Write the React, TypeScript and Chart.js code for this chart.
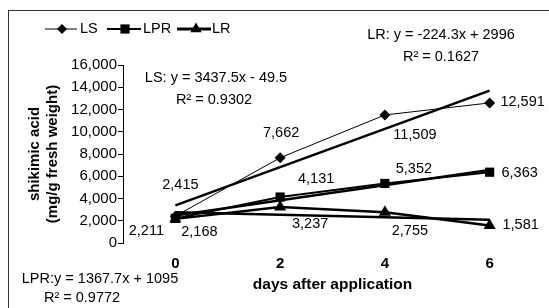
import React, { useEffect, useRef } from "react";
import { Chart, registerables } from "chart.js";

Chart.register(...registerables);

// ---- data ----
const days = [0, 2, 4, 6];
const xTickLabels = ["0", "2", "4", "6"];
const lsValues = [2415, 7662, 11509, 12591];
const lprValues = [2211, 4131, 5352, 6363];
const lrValues = [2168, 3237, 2755, 1581];
const trendDays = [0, 6];
const lsTrend = [3388, 13700.5];
const lprTrend = [2462.7, 6565.8];
const lrTrend = [2771.7, 2098.8];
const yMin = 0;
const yMax = 16000;
const yStep = 2000;
const seriesNames = ["LS", "LPR", "LR"];
const equationTexts = [
  "LS: y = 3437.5x - 49.5",
  "R² = 0.9302",
  "LR: y = -224.3x + 2996",
  "R² = 0.1627",
  "LPR:y = 1367.7x + 1095",
  "R² = 0.9772",
];

// ---- layout / style (not data) ----
const FONT = "'Liberation Sans', Arial, Helvetica, sans-serif";
const equationPos = [
  [216, 78],
  [214, 100],
  [441, 35],
  [441, 57],
  [100, 279],
  [82, 298],
];
const lsLabelOff = [[5, -31], [1, -25], [30, 20], [33, -1]];
const lprLabelOff = [[-29, 13], [36, -18], [29, -14], [30, 1]];
const lrLabelOff = [[24, 13], [30, 17], [25, 19], [31, 0]];

const fmt = (v: number) => Number(v).toLocaleString("en-US");

const decorPlugin = {
  id: "decor",
  beforeDraw(chart: any) {
    const ctx = chart.ctx;
    ctx.save();
    ctx.fillStyle = "#fff";
    ctx.fillRect(0, 0, chart.width, chart.height);
    ctx.strokeStyle = "#333";
    ctx.lineWidth = 1;
    ctx.strokeRect(8.5, 10.5, 700, 400);
    ctx.restore();
  },
  afterDatasetsDraw(chart: any) {
    const ctx = chart.ctx;
    ctx.save();
    ctx.fillStyle = "#000";
    ctx.font = `14.5px ${FONT}`;
    ctx.textAlign = "center";
    ctx.textBaseline = "middle";
    const groups: [number, number[], number[][]][] = [
      [0, lsValues, lsLabelOff],
      [1, lprValues, lprLabelOff],
      [2, lrValues, lrLabelOff],
    ];
    for (const [di, vals, offs] of groups) {
      const meta = chart.getDatasetMeta(di);
      meta.data.forEach((pt: any, i: number) => {
        ctx.fillText(fmt(vals[i]), pt.x + offs[i][0], pt.y + offs[i][1]);
      });
    }
    // equations
    equationTexts.forEach((t, i) => {
      ctx.fillText(t, equationPos[i][0], equationPos[i][1]);
    });
    // legend
    const ly = 29;
    const items = [
      { x0: 45, x1: 77, mx: 62, w: 1, style: "rectRot", r: 5, tx: 80 },
      { x0: 107, x1: 141, mx: 125, w: 2, style: "rect", r: 6.5, tx: 143 },
      { x0: 177, x1: 211, mx: 196, w: 3, style: "triangle", r: 6.5, tx: 212 },
    ];
    ctx.textAlign = "left";
    items.forEach((it, i) => {
      ctx.strokeStyle = "#000";
      ctx.lineWidth = it.w;
      ctx.beginPath();
      ctx.moveTo(it.x0, ly);
      ctx.lineTo(it.x1, ly);
      ctx.stroke();
      ctx.lineWidth = 1;
      (Chart as any).helpers?.drawPoint;
      drawMarker(ctx, it.style, it.r, it.mx, ly);
      ctx.fillStyle = "#000";
      ctx.fillText(seriesNames[i], it.tx, ly);
    });
    ctx.restore();
  },
};

function drawMarker(ctx: CanvasRenderingContext2D, style: string, r: number, x: number, y: number) {
  ctx.fillStyle = "#000";
  ctx.beginPath();
  if (style === "rectRot") {
    ctx.moveTo(x - r, y);
    ctx.lineTo(x, y - r);
    ctx.lineTo(x + r, y);
    ctx.lineTo(x, y + r);
  } else if (style === "rect") {
    const s = r * Math.SQRT1_2;
    ctx.rect(x - s, y - s, 2 * s, 2 * s);
  } else {
    ctx.moveTo(x, y - r);
    ctx.lineTo(x + r * 0.866, y + r * 0.5);
    ctx.lineTo(x - r * 0.866, y + r * 0.5);
  }
  ctx.closePath();
  ctx.fill();
}

export default function App() {
  const ref = useRef<HTMLCanvasElement | null>(null);
  useEffect(() => {
    if (!ref.current) return;
    const pts = (vals: number[]) => days.map((d, i) => ({ x: d, y: vals[i] }));
    const tpts = (vals: number[]) => trendDays.map((d, i) => ({ x: d, y: vals[i] }));
    const chart = new Chart(ref.current, {
      type: "line",
      data: {
        datasets: [
          {
            label: seriesNames[0],
            data: pts(lsValues),
            borderColor: "#000",
            backgroundColor: "#000",
            borderWidth: 1,
            pointStyle: "rectRot",
            pointRadius: 5.5,
            pointBorderWidth: 0,
          },
          {
            label: seriesNames[1],
            data: pts(lprValues),
            borderColor: "#000",
            backgroundColor: "#000",
            borderWidth: 2,
            pointStyle: "rect",
            pointRadius: 6.5,
            pointBorderWidth: 0,
          },
          {
            label: seriesNames[2],
            data: pts(lrValues),
            borderColor: "#000",
            backgroundColor: "#000",
            borderWidth: 2.5,
            pointStyle: "triangle",
            pointRadius: 7,
            pointBorderWidth: 0,
          },
          {
            label: "LS trend",
            data: tpts(lsTrend),
            borderColor: "#000",
            borderWidth: 2.5,
            pointRadius: 0,
          },
          {
            label: "LPR trend",
            data: tpts(lprTrend),
            borderColor: "#000",
            borderWidth: 2.5,
            pointRadius: 0,
          },
          {
            label: "LR trend",
            data: tpts(lrTrend),
            borderColor: "#000",
            borderWidth: 2.5,
            pointRadius: 0,
          },
        ],
      },
      options: {
        responsive: false,
        animation: false,
        layout: { padding: { top: 65, left: 0, right: 4, bottom: 0 } },
        plugins: { legend: { display: false }, tooltip: { enabled: false } },
        elements: { line: { tension: 0 } },
        scales: {
          x: {
            type: "linear",
            min: -1,
            max: 7,
            afterBuildTicks: (s: any) => {
              s.ticks = days.map((v) => ({ value: v }));
            },
            ticks: {
              color: "#000",
              font: { family: FONT, size: 15, weight: "bold" },
              padding: 12,
              callback: (_v: any, i: number) => xTickLabels[i],
            },
            grid: { display: false, drawTicks: false },
            border: { display: false },
            title: {
              display: true,
              text: "days after application",
              color: "#000",
              font: { family: FONT, size: 15.5, weight: "bold", lineHeight: 1.2 },
              padding: { top: 0, bottom: 14 },
            },
            afterFit: (s: any) => {
              s.height = 65;
            },
          },
          y: {
            min: yMin,
            max: yMax,
            ticks: {
              stepSize: yStep,
              color: "#000",
              font: { family: FONT, size: 15 },
              padding: 1,
              callback: (v: any) => fmt(v),
            },
            grid: {
              drawOnChartArea: false,
              drawTicks: true,
              tickLength: 5,
              color: "#000",
              tickColor: "#000",
            },
            border: { display: true, color: "#000", width: 1 },
            title: {
              display: true,
              text: ["shikimic acid", "(mg/g fresh weight)"],
              color: "#000",
              font: { family: FONT, size: 15, weight: "bold", lineHeight: 1.2 },
              padding: { top: 26, bottom: 0 },
            },
            afterFit: (s: any) => {
              s.width = 123;
            },
          },
        },
      },
      plugins: [decorPlugin],
    } as any);
    return () => chart.destroy();
  }, []);
  return (
    <div style={{ position: "absolute", left: 0, top: 0, width: 549, height: 308 }}>
      <canvas ref={ref} width={549} height={308} style={{ display: "block", width: 549, height: 308 }} />
    </div>
  );
}
